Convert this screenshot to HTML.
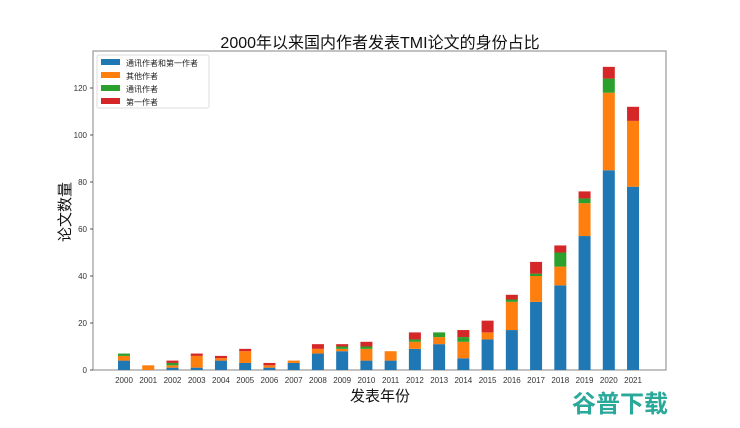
<!DOCTYPE html>
<html><head><meta charset="utf-8"><style>
body{margin:0;background:#fff;}
svg text{font-family:"Liberation Sans","Noto Sans CJK SC",sans-serif;}
</style></head><body>
<svg id="chart" width="740" height="423" xmlns="http://www.w3.org/2000/svg">
<text x="380" y="48" text-anchor="middle" font-size="16" fill="#111">2000年以来国内作者发表TMI论文的身份占比</text>
<rect x="93" y="51" width="573" height="319" fill="none" stroke="#999" stroke-width="1.2"/>
<g id="bars"></g><g id="yaxis"></g><g id="xaxis"></g>
<text x="380" y="401" text-anchor="middle" font-size="15" fill="#111">发表年份</text>
<text transform="translate(70,212) rotate(-90)" text-anchor="middle" font-size="15" fill="#111">论文数量</text>
<g>
<rect x="97" y="55" width="112" height="53" fill="#fff" stroke="#ddd" rx="2"/>
<g id="legend"></g>
</g>
<text x="620" y="412" text-anchor="middle" font-size="24" font-weight="bold" fill="#2aa89a">谷普下载</text>
</svg>
<script>
const years=["2000","2001","2002","2003","2004","2005","2006","2007","2008","2009","2010","2011","2012","2013","2014","2015","2016","2017","2018","2019","2020","2021"];
const blue=[4,0,1,1,4,3,1,3,7,8,4,4,9,11,5,13,17,29,36,57,85,78];
const orange=[2,2,1,5,1,5,1,1,2,1,5,4,3,3,7,3,12,11,8,14,33,28];
const green=[1,0,1,0,0,0,0,0,0,1,1,0,1,2,2,0,1,1,6,2,6,0];
const red=[0,0,1,1,1,1,1,0,2,1,2,0,3,0,3,5,2,5,3,3,5,6];
const seriesNames=["通讯作者和第一作者","其他作者","通讯作者","第一作者"];
const yTicks=[0,20,40,60,80,100,120];
const colors=["#1f77b4","#ff7f0e","#2ca02c","#d62728"];
const NS="http://www.w3.org/2000/svg";
const X=i=>124+i*24.24;
const Y=v=>370-v*2.35;
const series=[blue,orange,green,red];
const gb=document.getElementById('bars');
years.forEach((yr,i)=>{
  let base=0;
  series.forEach((s,k)=>{
    const v=s[i]; if(!v){return;}
    const r=document.createElementNS(NS,'rect');
    r.setAttribute('x',X(i)-6);r.setAttribute('width',12);
    r.setAttribute('y',Y(base+v));r.setAttribute('height',Y(base)-Y(base+v));
    r.setAttribute('fill',colors[k]);
    
    
    gb.appendChild(r);base+=v;
  });
  const t=document.createElementNS(NS,'text');
  t.setAttribute('x',X(i));t.setAttribute('y',383);t.setAttribute('text-anchor','middle');
  t.setAttribute('font-size','8');t.setAttribute('fill','#333');t.textContent=yr;
  
  
  document.getElementById('xaxis').appendChild(t);
});
const ya=document.getElementById('yaxis');
yTicks.forEach(v=>{
  const l=document.createElementNS(NS,'line');
  l.setAttribute('x1',90);l.setAttribute('x2',93);l.setAttribute('y1',Y(v));l.setAttribute('y2',Y(v));l.setAttribute('stroke','#555');
  
  
  ya.appendChild(l);
  const t=document.createElementNS(NS,'text');
  t.setAttribute('x',87);t.setAttribute('y',Y(v)+3);t.setAttribute('text-anchor','end');
  t.setAttribute('font-size','8');t.setAttribute('fill','#333');t.textContent=v;
  
  
  ya.appendChild(t);
});
const lg=document.getElementById('legend');
seriesNames.forEach((n,k)=>{
  const r=document.createElementNS(NS,'rect');
  r.setAttribute('x',101);r.setAttribute('y',59+k*13);r.setAttribute('width',19);r.setAttribute('height',6);r.setAttribute('fill',colors[k]);
  
  
  lg.appendChild(r);
  const t=document.createElementNS(NS,'text');
  t.setAttribute('x',126);t.setAttribute('y',66+k*13);t.setAttribute('font-size','8');t.setAttribute('fill','#222');t.textContent=n;
  
  
  lg.appendChild(t);
});
</script>
</body></html>
